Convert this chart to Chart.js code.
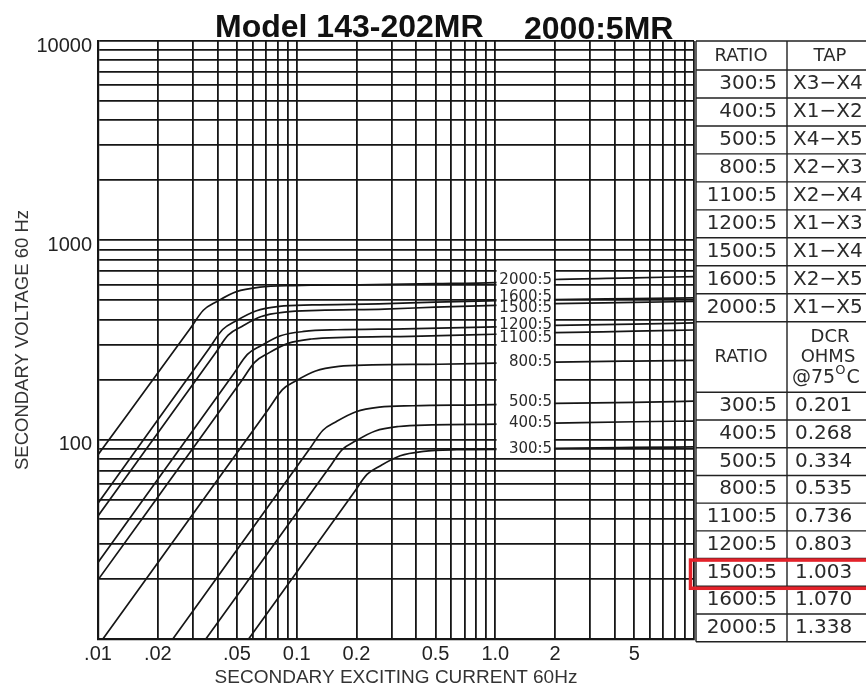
<!DOCTYPE html>
<html>
<head>
<meta charset="utf-8">
<title>Model 143-202MR 2000:5MR</title>
<script src="https://cdn.jsdelivr.net/npm/chart.js@4.4.0/dist/chart.umd.min.js"></script>
<style>
  html, body { margin: 0; padding: 0; background: #fff; }
  #wrap { width: 866px; height: 687px; }
</style>
</head>
<body>
<div id="wrap"><canvas id="excitation" width="866" height="687"></canvas></div>
<script>
// tap ratios, windings and DC resistance
const ratios = ['300:5', '400:5', '500:5', '800:5', '1100:5', '1200:5', '1500:5', '1600:5', '2000:5'];
const taps = ['X3\u2212X4', 'X1\u2212X2', 'X4\u2212X5', 'X2\u2212X3', 'X2\u2212X4', 'X1\u2212X3', 'X1\u2212X4', 'X2\u2212X5', 'X1\u2212X5'];
const dcrOhms = ['0.201', '0.268', '0.334', '0.535', '0.736', '0.803', '1.003', '1.070', '1.338'];
const highlightRatio = '1500:5';

// excitation curves: secondary current (A) vs secondary voltage (V)
const amps300 = [0.0573, 0.193, 0.226, 0.263, 0.332, 0.435, 0.64, 1.39, 2, 5, 10];
const volts300 = [10, 53.8, 66.9, 73.8, 83, 87.3, 89, 89.7, 90.5, 91.5, 92];
const amps400 = [0.0349, 0.145, 0.1695, 0.1975, 0.249, 0.3265, 0.48, 1.04, 2, 5, 10];
const volts400 = [10, 71.8, 89.2, 98.4, 110.6, 116.4, 118.6, 119.6, 121, 123, 124];
const amps500 = [0.0238, 0.116, 0.1356, 0.158, 0.199, 0.261, 0.384, 0.832, 2, 5, 10];
const volts500 = [10, 89.7, 111.5, 123, 138, 145.5, 148, 149.5, 152, 154, 156];
const amps800 = [0.01, 0.0725, 0.0848, 0.0988, 0.1245, 0.163, 0.24, 0.52, 1, 2, 5, 10];
const volts800 = [9.25, 143.5, 178.4, 197, 221, 233, 237, 239, 242, 245, 248, 250];
const amps1100 = [0.01, 0.0527, 0.0616, 0.0718, 0.0905, 0.1187, 0.1745, 0.378, 1, 2, 5, 10];
const volts1100 = [19.8, 197, 245, 271, 304, 320, 326, 330, 338, 344, 350, 355];
const amps1200 = [0.01, 0.0483, 0.0565, 0.0658, 0.083, 0.1088, 0.16, 0.347, 1, 2, 5, 10];
const volts1200 = [24.2, 215, 267.6, 295, 332, 349, 356, 360, 368, 374, 380, 385];
const amps1500 = [0.01, 0.0387, 0.0452, 0.0527, 0.0664, 0.0871, 0.128, 0.277, 0.5, 1, 2, 5, 10];
const volts1500 = [41.4, 269, 334.5, 369, 415, 436.5, 445, 452, 462, 472, 481, 488, 494];
const amps1600 = [0.01, 0.03625, 0.0424, 0.0494, 0.0623, 0.0816, 0.12, 0.26, 0.5, 1, 2, 5, 10];
const volts1600 = [48, 287, 357, 394, 442, 466, 474, 480, 490, 498, 505, 510, 514];
const amps2000 = [0.01, 0.029, 0.0339, 0.0395, 0.0498, 0.0653, 0.096, 0.208, 0.5, 1, 2, 5, 10];
const volts2000 = [84, 359, 446, 492, 553, 582, 593, 598, 606, 614, 636, 648, 658];

// voltage at which each ratio tag sits inside the label panel
const labelVolts = [90, 121, 154, 245, 324, 376, 456, 518, 632];

// axis ticks
const xTickValues = [0.01, 0.02, 0.05, 0.1, 0.2, 0.5, 1, 2, 5];
const xTickLabels = ['.01', '.02', '.05', '0.1', '0.2', '0.5', '1.0', '2', '5'];
const yTickValues = [100, 1000, 10000];
const yTickLabels = ['100', '1000', '10000'];

const curves = [
  [amps300, volts300], [amps400, volts400], [amps500, volts500],
  [amps800, volts800], [amps1100, volts1100], [amps1200, volts1200],
  [amps1500, volts1500], [amps1600, volts1600], [amps2000, volts2000]
];

const SANS = '"Liberation Sans", Arial, sans-serif';
const CAD = '"DejaVu Sans", sans-serif';
const INK = '#161616';

// 1..9 of every decade between lo and hi
function logGrid(lo, hi) {
  const out = [];
  const e0 = Math.round(Math.log10(lo)), e1 = Math.round(Math.log10(hi));
  for (let e = e0; e < e1; e++) {
    for (let m = 1; m < 10; m++) out.push(+(m * Math.pow(10, e)).toPrecision(3));
  }
  out.push(hi);
  return out;
}

function lookup(values, labels, v) {
  const i = values.findIndex(t => Math.abs(v / t - 1) < 1e-6);
  return i >= 0 ? labels[i] : '';
}

const datasets = curves.map(([a, v], i) => ({
  label: ratios[i],
  data: a.map((x, j) => ({ x: x, y: v[j] })),
  borderColor: INK,
  borderWidth: 1.7,
  pointRadius: 0,
  fill: false,
  cubicInterpolationMode: 'monotone'
}));

// white panel between 1 A and 2 A holding the ratio tags
const tagPanel = {
  id: 'tagPanel',
  afterDatasetsDraw(chart) {
    const { ctx, scales: { x, y } } = chart;
    const l = x.getPixelForValue(1), r = x.getPixelForValue(2);
    const t = y.getPixelForValue(800), b = y.getPixelForValue(80);
    ctx.save();
    ctx.fillStyle = '#fff';
    ctx.fillRect(l + 1.2, t + 1.2, r - l - 2.4, b - t - 2.4);
    ctx.fillStyle = '#2a2a2a';
    ctx.font = '15px ' + CAD;
    ctx.textAlign = 'right';
    ctx.textBaseline = 'middle';
    ratios.forEach((name, i) => {
      ctx.fillText(name, r - 3, y.getPixelForValue(labelVolts[i]));
    });
    ctx.restore();
  }
};

// heading and the tap / resistance table
const sheet = {
  id: 'sheet',
  afterDraw(chart) {
    const ctx = chart.ctx;
    ctx.save();
    ctx.fillStyle = '#111';
    ctx.font = 'bold 32px ' + SANS;
    ctx.textBaseline = 'alphabetic';
    ctx.textAlign = 'left';
    ctx.fillText('Model 143-202MR', 215, 37);
    ctx.fillText('2000:5MR', 524, 39);

    const x0 = 696, xMid = 787, x1 = 900;
    // rows[1..10]: tap block, rows[11..20]: resistance block
    const rows = [41, 70];
    for (let i = 0; i < 9; i++) rows.push(70 + (i + 1) * 27.97);
    rows.push(392.3);
    for (let i = 0; i < 9; i++) rows.push(392.3 + (i + 1) * 27.71);
    const bottom = rows[rows.length - 1];

    ctx.strokeStyle = '#222';
    ctx.lineWidth = 1.4;
    ctx.beginPath();
    rows.forEach(yy => { ctx.moveTo(x0, yy); ctx.lineTo(x1, yy); });
    ctx.moveTo(x0, 41); ctx.lineTo(x0, bottom);
    ctx.moveTo(xMid, 41); ctx.lineTo(xMid, bottom);
    ctx.stroke();

    ctx.fillStyle = '#2a2a2a';
    ctx.textBaseline = 'middle';
    ctx.font = '18px ' + CAD;
    ctx.textAlign = 'center';
    ctx.fillText('RATIO', 741, 56);
    ctx.fillText('TAP', 830, 56);
    ctx.fillText('RATIO', 741, 357);
    ctx.fillText('DCR', 830, 337);
    ctx.fillText('OHMS', 828, 357);
    // @75 °C with a raised O
    ctx.textAlign = 'left';
    ctx.font = '19px ' + CAD;
    ctx.fillText('@75', 792, 378);
    const w75 = ctx.measureText('@75').width;
    ctx.font = '13px ' + CAD;
    ctx.fillText('O', 792 + w75, 371);
    const wO = ctx.measureText('O').width;
    ctx.font = '19px ' + CAD;
    ctx.fillText('C', 792 + w75 + wO + 1, 378);

    ctx.font = '20px ' + CAD;
    for (let i = 0; i < 9; i++) {
      const ya = (rows[i + 1] + rows[i + 2]) / 2;
      const yb = (rows[i + 11] + rows[i + 12]) / 2;
      ctx.textAlign = 'right';
      ctx.fillText(ratios[i], 777, ya);
      ctx.fillText(ratios[i], 777, yb);
      ctx.textAlign = 'left';
      ctx.fillText(taps[i], 793, ya);
      ctx.fillText(dcrOhms[i], 795, yb);
    }

    const h = ratios.indexOf(highlightRatio);
    ctx.strokeStyle = '#e3222a';
    ctx.lineWidth = 3.5;
    ctx.strokeRect(690.5, rows[h + 11] + 1.5, 220, rows[h + 12] - rows[h + 11] + 0.5);
    ctx.restore();
  }
};

new Chart(document.getElementById('excitation'), {
  type: 'line',
  data: { datasets: datasets },
  options: {
    responsive: false,
    animation: false,
    devicePixelRatio: 1,
    layout: { padding: { left: 0, top: 41, right: 172, bottom: 0 } },
    plugins: { legend: { display: false }, tooltip: { enabled: false } },
    scales: {
      x: {
        type: 'logarithmic',
        min: 0.01,
        max: 10,
        afterBuildTicks: s => { s.ticks = logGrid(0.01, 10).map(v => ({ value: v })); },
        afterFit: s => { s.height = 48; },
        grid: { color: INK, lineWidth: 1.8, drawTicks: false },
        border: { color: INK, width: 2.2 },
        ticks: {
          autoSkip: false,
          maxRotation: 0,
          padding: 3,
          color: '#222',
          font: { family: SANS, size: 20 },
          callback: v => lookup(xTickValues, xTickLabels, v)
        },
        title: {
          display: true,
          text: 'SECONDARY EXCITING CURRENT 60Hz',
          color: '#333',
          font: { family: SANS, size: 19, lineHeight: 1 },
          padding: { top: 0, bottom: 0 }
        }
      },
      y: {
        type: 'logarithmic',
        min: 10,
        max: 10000,
        afterBuildTicks: s => { s.ticks = logGrid(10, 10000).map(v => ({ value: v })); },
        afterFit: s => { s.width = 98; },
        grid: { color: INK, lineWidth: 1.8, drawTicks: false },
        border: { color: INK, width: 2.2 },
        ticks: {
          autoSkip: false,
          padding: 6,
          labelOffset: 5,
          color: '#222',
          font: { family: SANS, size: 20 },
          callback: v => lookup(yTickValues, yTickLabels, v)
        },
        title: {
          display: true,
          text: 'SECONDARY VOLTAGE 60 Hz',
          color: '#333',
          font: { family: SANS, size: 18.5, lineHeight: 1 },
          padding: { top: 14, bottom: 0 }
        }
      }
    }
  },
  plugins: [tagPanel, sheet]
});
</script>
</body>
</html>
